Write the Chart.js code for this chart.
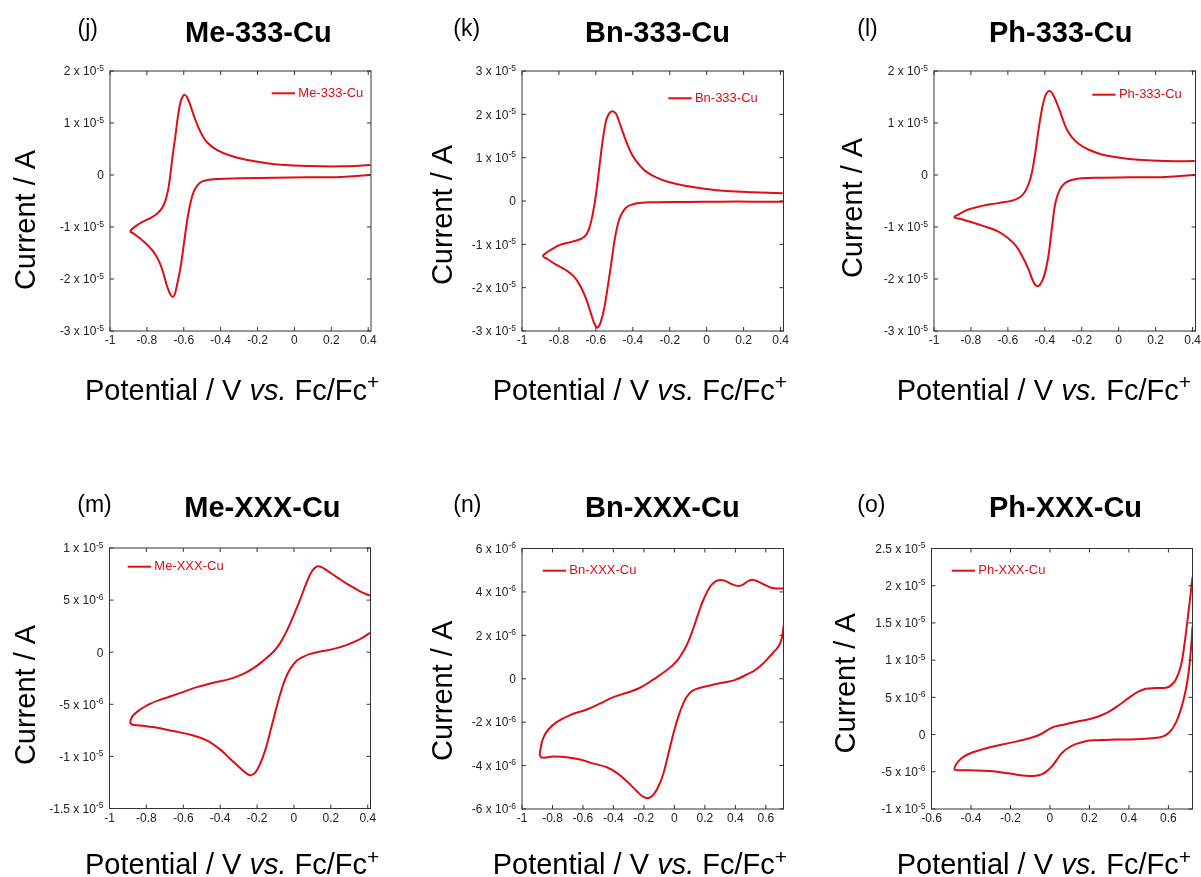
<!DOCTYPE html>
<html>
<head>
<meta charset="utf-8">
<title>Cyclic voltammograms of the Cu complexes</title>
<script src="https://cdn.jsdelivr.net/npm/chart.js@4.4.1/dist/chart.umd.min.js"></script>
<style>
  html, body { margin: 0; padding: 0; background: #fff; }
  #page { position: relative; width: 1201px; height: 877px; overflow: hidden; }
  #page canvas { position: absolute; left: 0; top: 0; }
</style>
</head>
<body>
<div id="page"></div>
<script>
// Tick values
const potTicksTo04 = [-1, -0.8, -0.6, -0.4, -0.2, 0, 0.2, 0.4];
const potTicksTo06 = [-1, -0.8, -0.6, -0.4, -0.2, 0, 0.2, 0.4, 0.6];
const potTicksPh = [-0.6, -0.4, -0.2, 0, 0.2, 0.4, 0.6];
const curTicks2to3 = [2e-5, 1e-5, 0, -1e-5, -2e-5, -3e-5];
const curTicks3to3 = [3e-5, 2e-5, 1e-5, 0, -1e-5, -2e-5, -3e-5];
const curTicksMe = [1e-5, 5e-6, 0, -5e-6, -1e-5, -1.5e-5];
const curTicksBn = [6e-6, 4e-6, 2e-6, 0, -2e-6, -4e-6, -6e-6];
const curTicksPh = [2.5e-5, 2e-5, 1.5e-5, 1e-5, 5e-6, 0, -5e-6, -1e-5];

// [potential / V, current / A], following the scan path around the loop
const me333Cu = [
  [0.412, 0], [0.252, -0.038e-5], [0.071, -0.045e-5], [-0.110, -0.051e-5], [-0.292, -0.064e-5],
  [-0.419, -0.076e-5], [-0.473, -0.096e-5], [-0.509, -0.14e-5], [-0.537, -0.255e-5], [-0.555, -0.414e-5],
  [-0.573, -0.70e-5], [-0.585, -0.955e-5], [-0.600, -1.338e-5], [-0.618, -1.783e-5], [-0.636, -2.102e-5],
  [-0.649, -2.293e-5], [-0.660, -2.344e-5], [-0.673, -2.293e-5], [-0.691, -2.134e-5], [-0.709, -1.911e-5],
  [-0.727, -1.72e-5], [-0.754, -1.529e-5], [-0.790, -1.369e-5], [-0.836, -1.223e-5], [-0.872, -1.127e-5],
  [-0.890, -1.083e-5],
  [-0.854, -0.968e-5], [-0.818, -0.892e-5], [-0.781, -0.828e-5], [-0.745, -0.745e-5], [-0.718, -0.637e-5],
  [-0.700, -0.497e-5], [-0.685, -0.287e-5], [-0.673, 0], [-0.660, 0.382e-5], [-0.645, 0.764e-5],
  [-0.631, 1.146e-5], [-0.618, 1.401e-5], [-0.605, 1.516e-5], [-0.595, 1.541e-5], [-0.582, 1.497e-5],
  [-0.564, 1.338e-5], [-0.546, 1.146e-5], [-0.527, 0.968e-5], [-0.500, 0.764e-5], [-0.473, 0.624e-5],
  [-0.419, 0.478e-5], [-0.346, 0.369e-5], [-0.255, 0.287e-5], [-0.165, 0.236e-5], [-0.074, 0.197e-5],
  [0.071, 0.172e-5], [0.252, 0.166e-5], [0.412, 0.191e-5]
];

const bn333Cu = [
  [0.412, -0.015e-5], [0.252, -0.015e-5], [0.071, -0.015e-5], [-0.110, -0.023e-5], [-0.292, -0.031e-5],
  [-0.364, -0.046e-5], [-0.401, -0.077e-5], [-0.437, -0.154e-5], [-0.464, -0.323e-5], [-0.482, -0.554e-5],
  [-0.500, -0.938e-5], [-0.518, -1.477e-5], [-0.537, -2.015e-5], [-0.555, -2.477e-5], [-0.573, -2.785e-5],
  [-0.585, -2.9e-5], [-0.596, -2.915e-5], [-0.609, -2.823e-5], [-0.627, -2.592e-5], [-0.654, -2.246e-5],
  [-0.682, -1.977e-5], [-0.718, -1.746e-5], [-0.763, -1.592e-5], [-0.818, -1.462e-5], [-0.863, -1.338e-5],
  [-0.886, -1.269e-5],
  [-0.854, -1.154e-5], [-0.818, -1.062e-5], [-0.781, -0.992e-5], [-0.727, -0.938e-5], [-0.682, -0.877e-5],
  [-0.654, -0.785e-5], [-0.636, -0.631e-5], [-0.618, -0.323e-5], [-0.600, 0.138e-5], [-0.582, 0.754e-5],
  [-0.564, 1.369e-5], [-0.546, 1.831e-5], [-0.531, 2.0e-5], [-0.517, 2.062e-5], [-0.504, 2.062e-5],
  [-0.491, 2.015e-5], [-0.477, 1.869e-5], [-0.455, 1.6e-5], [-0.428, 1.292e-5], [-0.401, 1.046e-5],
  [-0.364, 0.831e-5], [-0.328, 0.677e-5], [-0.274, 0.546e-5], [-0.201, 0.431e-5], [-0.110, 0.346e-5],
  [-0.002, 0.277e-5], [0.107, 0.231e-5], [0.252, 0.2e-5], [0.412, 0.177e-5]
];

const ph333Cu = [
  [0.412, 0], [0.252, -0.038e-5], [0.071, -0.045e-5], [-0.110, -0.051e-5], [-0.201, -0.064e-5],
  [-0.255, -0.096e-5], [-0.292, -0.159e-5], [-0.319, -0.287e-5], [-0.341, -0.510e-5], [-0.355, -0.828e-5],
  [-0.368, -1.210e-5], [-0.382, -1.592e-5], [-0.401, -1.911e-5], [-0.419, -2.070e-5], [-0.433, -2.134e-5],
  [-0.448, -2.127e-5], [-0.464, -2.038e-5], [-0.488, -1.815e-5], [-0.518, -1.592e-5], [-0.555, -1.369e-5],
  [-0.600, -1.210e-5], [-0.654, -1.083e-5], [-0.727, -0.987e-5], [-0.799, -0.904e-5], [-0.854, -0.847e-5],
  [-0.890, -0.809e-5],
  [-0.863, -0.752e-5], [-0.818, -0.669e-5], [-0.745, -0.599e-5], [-0.654, -0.541e-5], [-0.582, -0.497e-5],
  [-0.537, -0.433e-5], [-0.509, -0.331e-5], [-0.488, -0.178e-5], [-0.469, 0.064e-5], [-0.451, 0.446e-5],
  [-0.433, 0.892e-5], [-0.415, 1.274e-5], [-0.397, 1.529e-5], [-0.382, 1.605e-5], [-0.368, 1.605e-5],
  [-0.355, 1.541e-5], [-0.337, 1.401e-5], [-0.310, 1.146e-5], [-0.283, 0.892e-5], [-0.255, 0.732e-5],
  [-0.219, 0.605e-5], [-0.165, 0.490e-5], [-0.092, 0.395e-5], [-0.002, 0.338e-5], [0.107, 0.293e-5],
  [0.252, 0.268e-5], [0.412, 0.268e-5]
];

const meXXXCu = [
  [0.412, 1.853e-6], [0.361, 1.278e-6], [0.288, 0.703e-6], [0.216, 0.319e-6], [0.143, 0.064e-6],
  [0.089, -0.160e-6], [0.053, -0.415e-6], [0.016, -0.799e-6], [-0.020, -1.597e-6], [-0.047, -2.556e-6],
  [-0.074, -3.994e-6], [-0.101, -5.751e-6], [-0.129, -7.668e-6], [-0.156, -9.425e-6], [-0.183, -10.703e-6],
  [-0.210, -11.566e-6], [-0.234, -11.821e-6], [-0.255, -11.661e-6], [-0.292, -11.118e-6], [-0.346, -10.224e-6],
  [-0.401, -9.329e-6], [-0.473, -8.466e-6], [-0.546, -7.987e-6], [-0.654, -7.572e-6], [-0.763, -7.189e-6],
  [-0.836, -7.029e-6], [-0.885, -6.869e-6],
  [-0.881, -6.326e-6], [-0.863, -5.911e-6], [-0.836, -5.527e-6], [-0.781, -4.952e-6], [-0.709, -4.473e-6],
  [-0.618, -3.930e-6], [-0.527, -3.355e-6], [-0.437, -2.939e-6], [-0.346, -2.556e-6], [-0.274, -2.077e-6],
  [-0.219, -1.534e-6], [-0.165, -0.799e-6], [-0.110, 0.064e-6], [-0.074, 0.895e-6], [-0.038, 2.077e-6],
  [-0.002, 3.514e-6], [0.035, 5.112e-6], [0.062, 6.390e-6], [0.089, 7.508e-6], [0.111, 8.051e-6],
  [0.129, 8.243e-6], [0.152, 8.147e-6], [0.180, 7.827e-6], [0.234, 7.188e-6], [0.288, 6.550e-6],
  [0.361, 5.815e-6], [0.412, 5.431e-6]
];

const bnXXXCu = [
  [0.717, 2.462e-6], [0.706, 1.892e-6], [0.685, 1.508e-6], [0.652, 1.231e-6], [0.608, 0.892e-6],
  [0.564, 0.585e-6], [0.520, 0.354e-6], [0.476, 0.2e-6], [0.433, 0.046e-6], [0.389, -0.077e-6],
  [0.345, -0.154e-6], [0.301, -0.2e-6], [0.235, -0.308e-6], [0.170, -0.415e-6], [0.126, -0.523e-6],
  [0.093, -0.723e-6], [0.060, -1.108e-6], [0.027, -1.723e-6], [-0.005, -2.492e-6], [-0.038, -3.415e-6],
  [-0.071, -4.338e-6], [-0.104, -4.954e-6], [-0.137, -5.338e-6], [-0.170, -5.492e-6], [-0.203, -5.446e-6],
  [-0.246, -5.185e-6], [-0.312, -4.723e-6], [-0.378, -4.338e-6], [-0.444, -4.077e-6], [-0.531, -3.908e-6],
  [-0.619, -3.723e-6], [-0.706, -3.615e-6], [-0.794, -3.585e-6], [-0.877, -3.6e-6],
  [-0.875, -3.108e-6], [-0.860, -2.723e-6], [-0.827, -2.338e-6], [-0.772, -2.0e-6], [-0.685, -1.677e-6],
  [-0.575, -1.415e-6], [-0.487, -1.138e-6], [-0.400, -0.846e-6], [-0.312, -0.646e-6], [-0.225, -0.415e-6],
  [-0.137, -0.031e-6], [-0.049, 0.4e-6], [0.016, 0.815e-6], [0.060, 1.277e-6], [0.093, 1.738e-6],
  [0.126, 2.354e-6], [0.159, 3.046e-6], [0.192, 3.662e-6], [0.235, 4.246e-6], [0.268, 4.477e-6],
  [0.301, 4.554e-6], [0.334, 4.508e-6], [0.378, 4.354e-6], [0.422, 4.277e-6], [0.455, 4.354e-6],
  [0.487, 4.508e-6], [0.520, 4.554e-6], [0.553, 4.462e-6], [0.608, 4.277e-6], [0.652, 4.169e-6],
  [0.717, 4.154e-6]
];

const phXXXCu = [
  [0.722, 14.55e-6], [0.714, 11.43e-6], [0.702, 8.30e-6], [0.685, 5.62e-6], [0.663, 3.39e-6],
  [0.638, 1.61e-6], [0.604, 0.27e-6], [0.570, -0.27e-6], [0.519, -0.49e-6], [0.435, -0.62e-6],
  [0.333, -0.67e-6], [0.232, -0.76e-6], [0.181, -0.89e-6], [0.130, -1.29e-6], [0.096, -1.74e-6],
  [0.063, -2.41e-6], [0.037, -3.30e-6], [0.012, -4.20e-6], [-0.014, -4.87e-6], [-0.039, -5.31e-6],
  [-0.073, -5.54e-6], [-0.124, -5.54e-6], [-0.174, -5.36e-6], [-0.242, -5.09e-6], [-0.310, -4.91e-6],
  [-0.377, -4.82e-6], [-0.445, -4.78e-6], [-0.482, -4.73e-6],
  [-0.479, -4.20e-6], [-0.462, -3.53e-6], [-0.437, -2.95e-6], [-0.394, -2.41e-6], [-0.327, -1.87e-6],
  [-0.242, -1.34e-6], [-0.157, -0.85e-6], [-0.090, -0.40e-6], [-0.047, 0.04e-6], [-0.014, 0.58e-6],
  [0.020, 1.03e-6], [0.063, 1.29e-6], [0.130, 1.70e-6], [0.198, 2.05e-6], [0.249, 2.46e-6],
  [0.299, 3.08e-6], [0.350, 3.97e-6], [0.401, 4.96e-6], [0.443, 5.71e-6], [0.486, 6.16e-6],
  [0.536, 6.25e-6], [0.587, 6.29e-6], [0.613, 6.61e-6], [0.638, 7.41e-6], [0.663, 9.20e-6],
  [0.680, 11.87e-6], [0.697, 15.45e-6], [0.711, 18.57e-6], [0.722, 21.16e-6]
];

const FONT = '"Liberation Sans", Arial, Helvetica, sans-serif';
const RED = 'rgb(222, 14, 20)';
const INK = '#222';
const PAGE_W = 1201, PAGE_H = 877;

// layout in page pixels: area = [left, top, right, bottom] of the plot frame
const panels = [
    { letter: '(j)', name: 'Me-333-Cu', points: me333Cu, xMin: -1, xMax: 0.415, xTicks: potTicksTo04,
      yMin: -3e-5, yMax: 2e-5, yTicks: curTicks2to3, area: [110, 71, 371, 331],
      letterAt: [77.5, 36], titleAt: [185, 41.7], yTitleAt: [35, 220], xTitleAt: [85, 399.5], legendAt: [271.7, 93.3] },
    { letter: '(k)', name: 'Bn-333-Cu', points: bn333Cu, xMin: -1, xMax: 0.416, xTicks: potTicksTo04,
      yMin: -3e-5, yMax: 3e-5, yTicks: curTicks3to3, area: [522, 71, 783.5, 331],
      letterAt: [453.3, 36], titleAt: [585, 41.7], yTitleAt: [451.7, 215], xTitleAt: [492.7, 399.5], legendAt: [668.3, 98.3] },
    { letter: '(l)', name: 'Ph-333-Cu', points: ph333Cu, xMin: -1, xMax: 0.416, xTicks: potTicksTo04,
      yMin: -3e-5, yMax: 2e-5, yTicks: curTicks2to3, area: [934, 71, 1195.5, 331],
      letterAt: [857.3, 36], titleAt: [989, 41.7], yTitleAt: [861.7, 208], xTitleAt: [896.7, 399.5], legendAt: [1092.3, 94.7] },
    { letter: '(m)', name: 'Me-XXX-Cu', points: meXXXCu, xMin: -1, xMax: 0.415, xTicks: potTicksTo04,
      yMin: -1.5e-5, yMax: 1e-5, yTicks: curTicksMe, area: [109.5, 548, 370.5, 808.5],
      letterAt: [77.3, 512], titleAt: [184.3, 516.5], yTitleAt: [35, 695], xTitleAt: [85, 874], legendAt: [127.7, 566.7] },
    { letter: '(n)', name: 'Bn-XXX-Cu', points: bnXXXCu, xMin: -1, xMax: 0.716, xTicks: potTicksTo06,
      yMin: -6e-6, yMax: 6e-6, yTicks: curTicksBn, area: [522, 548.5, 783.5, 809],
      letterAt: [453.3, 512], titleAt: [585, 516.5], yTitleAt: [451.7, 690.8], xTitleAt: [492.7, 874], legendAt: [542.7, 570.7] },
    { letter: '(o)', name: 'Ph-XXX-Cu', points: phXXXCu, xMin: -0.6, xMax: 0.722, xTicks: potTicksPh,
      yMin: -1e-5, yMax: 2.5e-5, yTicks: curTicksPh, area: [931.5, 548.5, 1192.5, 809],
      letterAt: [857.3, 512], titleAt: [989, 516.5], yTitleAt: [855, 683.3], xTitleAt: [896.7, 874], legendAt: [951.7, 570.7] }
];

// "2 x 10" + "-5" style label pieces
function sciParts(v) {
    if (v === 0) return ['0', ''];
    let e = Math.floor(Math.log10(Math.abs(v)) + 1e-9);
    let m = Math.round(v / Math.pow(10, e) * 10) / 10;
    return [`${m} x 10`, `${e}`];
}

function drawRuns(ctx, runs, x, y) {
    ctx.textAlign = 'left';
    ctx.textBaseline = 'alphabetic';
    runs.forEach(r => {
        ctx.font = r.font;
        ctx.fillText(r.text, x, y - (r.rise || 0));
        x += ctx.measureText(r.text).width;
    });
}

function makeDecor(p) {
    return {
        id: 'decor',
        afterDatasetsDraw(chart) {
            let ctx = chart.ctx;
            let a = chart.chartArea;
            let xs = chart.scales.x, ys = chart.scales.y;
            ctx.save();

            // frame with inward ticks on all four sides
            ctx.strokeStyle = '#333';
            ctx.lineWidth = 1;
            ctx.strokeRect(a.left, a.top, a.right - a.left, a.bottom - a.top);
            ctx.beginPath();
            xs.ticks.forEach(t => {
                let px = xs.getPixelForValue(t.value);
                ctx.moveTo(px, a.bottom); ctx.lineTo(px, a.bottom - 4);
                ctx.moveTo(px, a.top); ctx.lineTo(px, a.top + 4);
            });
            ys.ticks.forEach(t => {
                let py = ys.getPixelForValue(t.value);
                ctx.moveTo(a.left, py); ctx.lineTo(a.left + 4, py);
                ctx.moveTo(a.right, py); ctx.lineTo(a.right - 4, py);
            });
            ctx.stroke();

            // tick labels
            ctx.fillStyle = INK;
            ctx.font = `12px ${FONT}`;
            ctx.textAlign = 'center';
            ctx.textBaseline = 'middle';
            xs.ticks.forEach(t => {
                ctx.fillText(String(t.value), xs.getPixelForValue(t.value), a.bottom + 10);
            });

            ctx.textAlign = 'right';
            ctx.textBaseline = 'alphabetic';
            ys.ticks.forEach(t => {
                let py = ys.getPixelForValue(t.value);
                let [mant, exp] = sciParts(t.value);
                let xr = a.left - 6;
                ctx.font = `8.5px ${FONT}`;
                let ew = exp ? ctx.measureText(exp).width : 0;
                if (exp) ctx.fillText(exp, xr, py - 0.5);
                ctx.font = `12px ${FONT}`;
                ctx.fillText(mant, xr - ew, py + 4.3);
            });

            // legend
            let ds = chart.data.datasets[0];
            let [lx, ly] = p.legendAt;
            ctx.strokeStyle = ds.borderColor;
            ctx.lineWidth = 2;
            ctx.beginPath();
            ctx.moveTo(lx, ly); ctx.lineTo(lx + 23.3, ly);
            ctx.stroke();
            ctx.fillStyle = ds.borderColor;
            ctx.font = `13px ${FONT}`;
            ctx.textAlign = 'left';
            ctx.textBaseline = 'middle';
            ctx.fillText(ds.label, lx + 26.6, ly);

            // panel letter and compound name
            ctx.fillStyle = '#000';
            ctx.textBaseline = 'alphabetic';
            ctx.font = `23px ${FONT}`;
            ctx.fillText(p.letter, p.letterAt[0], p.letterAt[1]);
            ctx.font = `bold 29px ${FONT}`;
            ctx.fillText(p.name, p.titleAt[0], p.titleAt[1]);

            // axis titles
            drawRuns(ctx, [
                { text: 'Potential / V ', font: `29px ${FONT}` },
                { text: 'vs.', font: `italic 29px ${FONT}` },
                { text: ' Fc/Fc', font: `29px ${FONT}` },
                { text: '+', font: `21px ${FONT}`, rise: 10.5 }
            ], p.xTitleAt[0], p.xTitleAt[1]);

            ctx.save();
            ctx.translate(p.yTitleAt[0], p.yTitleAt[1]);
            ctx.rotate(-Math.PI / 2);
            ctx.font = `29px ${FONT}`;
            ctx.textAlign = 'center';
            ctx.textBaseline = 'alphabetic';
            ctx.fillText('Current / A', 0, 0);
            ctx.restore();

            ctx.restore();
        }
    };
}

let page = document.getElementById('page');
panels.forEach(p => {
    let canvas = document.createElement('canvas');
    canvas.width = PAGE_W;
    canvas.height = PAGE_H;
    canvas.style.width = PAGE_W + 'px';
    canvas.style.height = PAGE_H + 'px';
    page.appendChild(canvas);

    new Chart(canvas, {
        type: 'scatter',
        data: {
            datasets: [{
                label: p.name,
                data: p.points.map(([v, i]) => ({ x: v, y: i })),
                showLine: true,
                borderColor: RED,
                borderWidth: 2,
                borderJoinStyle: 'round',
                pointRadius: 0,
                tension: 0.4,
                fill: false
            }]
        },
        options: {
            responsive: false,
            animation: false,
            events: [],
            devicePixelRatio: 1,
            layout: {
                padding: { left: p.area[0], top: p.area[1], right: PAGE_W - p.area[2], bottom: PAGE_H - p.area[3] }
            },
            scales: {
                x: {
                    type: 'linear', display: false, min: p.xMin, max: p.xMax,
                    afterBuildTicks: s => { s.ticks = p.xTicks.map(v => ({ value: v })); }
                },
                y: {
                    type: 'linear', display: false, min: p.yMin, max: p.yMax,
                    afterBuildTicks: s => { s.ticks = p.yTicks.map(v => ({ value: v })); }
                }
            },
            plugins: {
                legend: { display: false },
                tooltip: { enabled: false }
            }
        },
        plugins: [makeDecor(p)]
    });
});
</script>
</body>
</html>
